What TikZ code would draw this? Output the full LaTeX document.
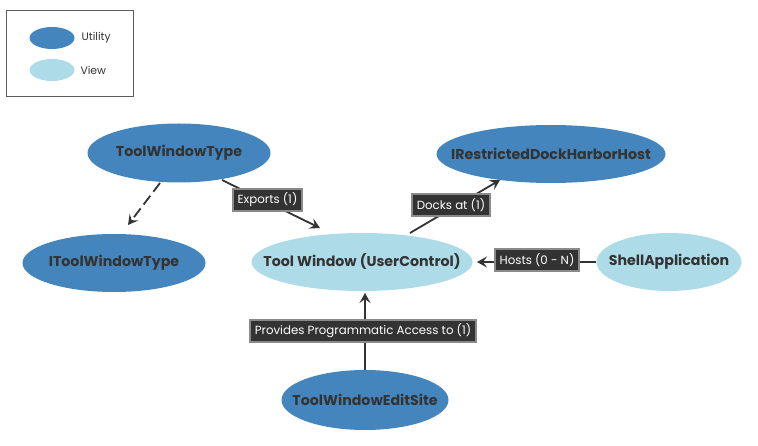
\documentclass[tikz,border=0pt]{standalone}
\usepackage{fontspec}
\setmainfont{Poppins}
\usetikzlibrary{arrows.meta,shapes.geometric}
\definecolor{util}{HTML}{4385BC}
\definecolor{viewc}{HTML}{ADDCE8}
\definecolor{ink}{HTML}{333333}
\definecolor{lblfill}{HTML}{333333}
\definecolor{lbldraw}{HTML}{8A8A8A}
\tikzset{
  ent/.style={ellipse, draw=none, inner sep=0pt},
  utilnode/.style={ent, fill=util},
  viewnode/.style={ent, fill=viewc},
  enttext/.style={text=ink, inner sep=0pt, font=\fontsize{14.2}{16}\selectfont\bfseries},
  lbl/.style={fill=lblfill, draw=lbldraw, line width=2pt, text=white, inner xsep=4.5pt, inner ysep=4pt, font=\fontsize{11.8}{13}\selectfont},
  conn/.style={draw=ink, line width=1.8pt, -{Stealth[length=10pt,width=11pt,inset=4pt]}},
  legtext/.style={text=ink, font=\fontsize{10.8}{12}\selectfont, anchor=west}
}
\begin{document}
\begin{tikzpicture}[x=1pt,y=-1pt]
\useasboundingbox (0,0) rectangle (758,446);
% legend
\node[draw=ink!80, line width=1pt, minimum width=127pt, minimum height=86pt, inner sep=0pt] (legend) at (69.5,54) {};
\node[ellipse, fill=util, minimum width=45pt, minimum height=22pt, inner sep=0pt] (lu) at (52,38) {};
\node[legtext] (lut) at (78,38) {Utility};
\node[ellipse, fill=viewc, minimum width=45pt, minimum height=22pt, inner sep=0pt] (lv) at (52,70) {};
\node[legtext] (lvt) at (77,70) {View};
% nodes
\node[utilnode, minimum width=183pt, minimum height=59pt] (twt) at (179,153) {};
\node[enttext] (twtt) at (twt) {ToolWindowType};
\node[utilnode, minimum width=183pt, minimum height=58pt] (itwt) at (114,263) {};
\node[enttext] (itwtt) at (itwt) {IToolWindowType};
\node[viewnode, minimum width=221pt, minimum height=58pt] (tw) at (362,262) {};
\node[enttext] (twt2) at (tw) {Tool Window (UserControl)};
\node[utilnode, minimum width=229pt, minimum height=58pt] (irh) at (551,154) {};
\node[enttext] (irht) at (irh) {IRestrictedDockHarborHost};
\node[viewnode, minimum width=145pt, minimum height=58pt] (shell) at (669,262) {};
\node[enttext] (shellt) at (shell) {ShellApplication};
\node[utilnode, minimum width=167pt, minimum height=60pt] (tes) at (365,400) {};
\node[enttext] (test) at (tes) {ToolWindowEditSite};
% connectors
\coordinate (a1) at (160,183);
\coordinate (a2) at (128,225);
\draw[conn, dash pattern=on 11pt off 5pt] (a1) -- (a2);
\coordinate (b1) at (222,180);
\coordinate (b2) at (320,228);
\draw[conn] (b1) -- (b2);
\node[lbl] (lb) at (267.5,200) {Exports (1)};
\coordinate (c1) at (410,233);
\coordinate (c2) at (500,180);
\draw[conn] (c1) -- (c2);
\node[lbl] (lc) at (451,205) {Docks at (1)};
\coordinate (d2) at (477,262);
\draw[conn] (shell.west) -- (d2);
\node[lbl] (ld) at (537,260) {Hosts (0 - N)};
\coordinate (e2) at (365,293);
\draw[conn] (tes.north) -- (e2);
\node[lbl] (le) at (363,331) {Provides Programmatic Access to (1)};
\end{tikzpicture}
\end{document}
